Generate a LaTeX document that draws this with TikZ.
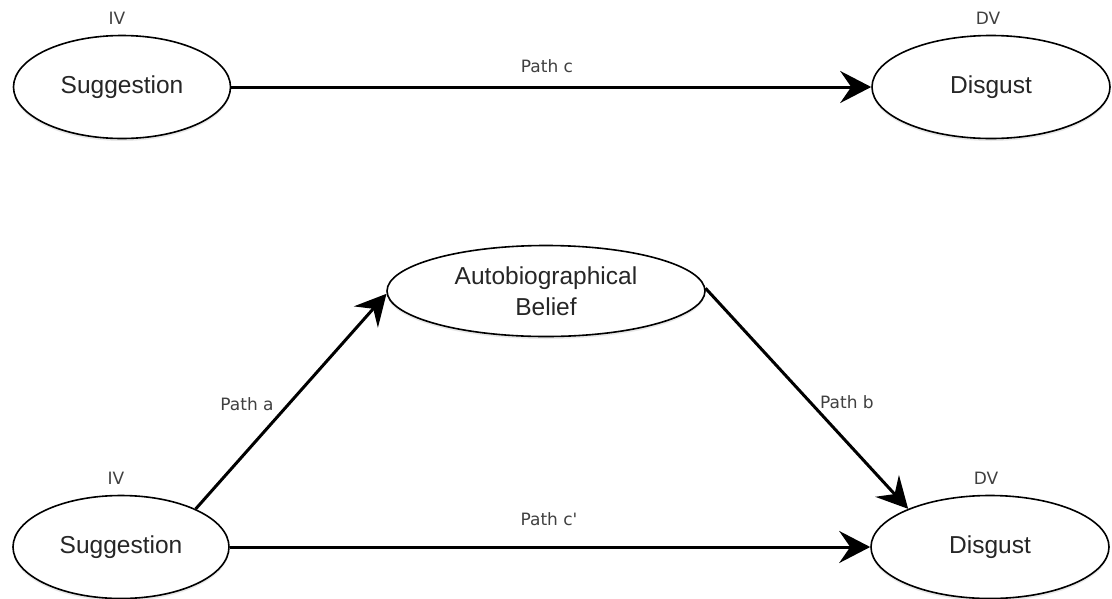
\documentclass[tikz,border=0pt]{standalone}
\usepackage{fontspec}
\setmainfont{Liberation Sans}
\newfontfamily\labelfont{DejaVu Sans}
\usetikzlibrary{shapes.geometric,arrows.meta,shadows}
\begin{document}
\begin{tikzpicture}[x=1pt,y=-1pt,
  var/.style={ellipse, draw=black, line width=1.6pt, fill=white, inner sep=0pt,
    text=black!85, font=\fontsize{24.5}{31}\selectfont, align=center,
    drop shadow={opacity=0.18, shadow xshift=0pt, shadow yshift=-2.5pt}},
  tag/.style={anchor=base, text=black!75, font=\labelfont\fontsize{17}{20}\selectfont, inner sep=0pt},
  conn/.style={line width=3pt, -{Stealth[length=31pt, width=32pt, inset=11pt]}}
]
\useasboundingbox (0,0) rectangle (1112,598);
% top model
\node[var, minimum width=217pt, minimum height=103pt] (s1) at (122,87) {Suggestion};
\node[var, minimum width=238pt, minimum height=103pt] (d1) at (991,87) {Disgust};
\node[tag] (iv1) at (117,24) {IV};
\node[tag] (dv1) at (988,24) {DV};
\draw[conn] (s1.east) -- (d1.west);
\node[tag] (pc) at (547,72) {Path c};
% bottom model
\node[var, minimum width=318pt, minimum height=91pt] (ab) at (546,291) {Autobiographical\\Belief};
\node[var, minimum width=216pt, minimum height=103pt] (s2) at (121,547) {Suggestion};
\node[var, minimum width=238pt, minimum height=103pt] (d2) at (990,547) {Disgust};
\node[tag] (iv2) at (116,484) {IV};
\node[tag] (dv2) at (986,484) {DV};
\draw[conn] (s2.27) -- (ab.181);
\draw[conn] (ab.1) -- (d2.155);
\draw[conn] (s2.east) -- (d2.west);
\node[tag] (pa) at (247,410) {Path a};
\node[tag] (pb) at (847,408) {Path b};
\node[tag] (pcp) at (549,525) {Path c'};
\end{tikzpicture}
\end{document}
